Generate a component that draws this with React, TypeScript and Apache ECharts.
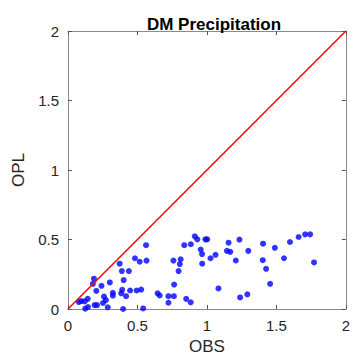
import React, { useEffect, useRef } from "react";
import * as echarts from "echarts";

const titleText = "DM Precipitation";
const xName = "OBS";
const yName = "OPL";
const axisMin = 0;
const axisMax = 2;
const tickInterval = 0.5;

const obsValues = [
  0.562, 0.482, 0.516, 0.565, 0.372, 0.388, 0.438, 0.401, 0.187, 0.179,
  0.241, 0.301, 0.204, 0.323, 0.323, 0.39, 0.383, 0.447, 0.494, 0.527,
  0.418, 0.259, 0.273, 0.252, 0.142, 0.121, 0.096, 0.078, 0.124, 0.191,
  0.209, 0.286, 0.397, 0.541, 0.144, 0.645, 0.66, 0.723, 0.723, 0.762,
  0.764, 0.796, 0.805, 0.811, 0.759, 0.851, 0.883, 0.837, 0.884, 0.913,
  0.931, 0.955, 0.965, 0.966, 0.989, 1.002, 1.026, 1.062, 1.156, 1.234,
  1.144, 1.168, 1.208, 1.298, 1.404, 1.489, 1.402, 1.426, 1.555, 1.598,
  1.66, 1.707, 1.743, 1.771, 1.083, 1.455, 1.239, 1.291,
];
const oplValues = [
  0.459, 0.365, 0.34, 0.348, 0.326, 0.273, 0.273, 0.208, 0.218, 0.181,
  0.167, 0.191, 0.13, 0.117, 0.096, 0.138, 0.113, 0.133, 0.133, 0.14,
  0.092, 0.089, 0.064, 0.043, 0.073, 0.055, 0.057, 0.05, 0.002, 0.028,
  0.028, 0.012, 0.0, 0.004, 0.014, 0.113, 0.097, 0.092, 0.045, 0.092,
  0.176, 0.273, 0.323, 0.358, 0.348, 0.073, 0.048, 0.459, 0.466, 0.523,
  0.501, 0.428, 0.395, 0.326, 0.501, 0.501, 0.365, 0.39, 0.477, 0.499,
  0.418, 0.411, 0.349, 0.418, 0.47, 0.44, 0.351, 0.289, 0.365, 0.482,
  0.518, 0.537, 0.537, 0.335, 0.148, 0.181, 0.083, 0.105,
];
const diagonal = [
  [0, 0],
  [2, 2],
];

const FONT = "'Liberation Sans', Arial, Helvetica, sans-serif";
const AXIS_GRAY = "#8a8a8a";
const TEXT = "#262626";

export default function App() {
  const ref = useRef<HTMLDivElement>(null);
  useEffect(() => {
    document.body.style.margin = "0";
    document.documentElement.style.overflow = "hidden";
    if (!ref.current) return;
    const chart = echarts.init(ref.current, null, { renderer: "svg" });
    const baseAxis = {
      type: "value",
      min: axisMin,
      max: axisMax,
      interval: tickInterval,
      splitLine: { show: false },
      axisLine: { show: true, onZero: false, lineStyle: { color: AXIS_GRAY, width: 1 } },
      axisTick: { show: true, inside: true, length: 4, lineStyle: { color: "#555" } },
    };
    chart.setOption({
      animation: false,
      backgroundColor: "#ffffff",
      title: {
        text: titleText,
        left: 209,
        textAlign: "center",
        top: 11,
        textStyle: { fontFamily: FONT, fontSize: 17, fontWeight: "bold", color: "#000" },
      },
      grid: { left: 68, top: 31, right: 2.5, bottom: 47, containLabel: false },
      xAxis: [
        {
          ...baseAxis,
          position: "bottom",
          name: xName,
          nameLocation: "middle",
          nameGap: 29,
          nameTextStyle: { fontFamily: FONT, fontSize: 17, color: TEXT },
          axisLabel: {
            fontFamily: FONT,
            fontSize: 15,
            color: TEXT,
            margin: 9,
            formatter: (v: number) => String(v),
          },
        },
        {
          ...baseAxis,
          position: "top",
          axisLabel: { show: false },
        },
      ],
      yAxis: [
        {
          ...baseAxis,
          position: "left",
          name: yName,
          nameLocation: "middle",
          nameGap: 41,
          nameTextStyle: { fontFamily: FONT, fontSize: 17, color: TEXT },
          axisLabel: {
            fontFamily: FONT,
            fontSize: 15,
            color: TEXT,
            margin: 9,
            formatter: (v: number) => String(v),
          },
        },
        {
          ...baseAxis,
          position: "right",
          axisLabel: { show: false },
        },
      ],
      series: [
        {
          type: "scatter",
          xAxisIndex: 0,
          yAxisIndex: 0,
          symbol: "circle",
          symbolSize: 6,
          itemStyle: { color: "#0000ff" },
          data: obsValues.map((x, i) => [x, oplValues[i]]),
          z: 3,
        },
        {
          type: "line",
          xAxisIndex: 0,
          yAxisIndex: 0,
          data: diagonal,
          showSymbol: false,
          symbol: "none",
          lineStyle: { color: "#ff0000", width: 1.5 },
          z: 4,
        },
      ],
    });
    return () => chart.dispose();
  }, []);
  return <div ref={ref} style={{ width: 353, height: 360 }} />;
}
